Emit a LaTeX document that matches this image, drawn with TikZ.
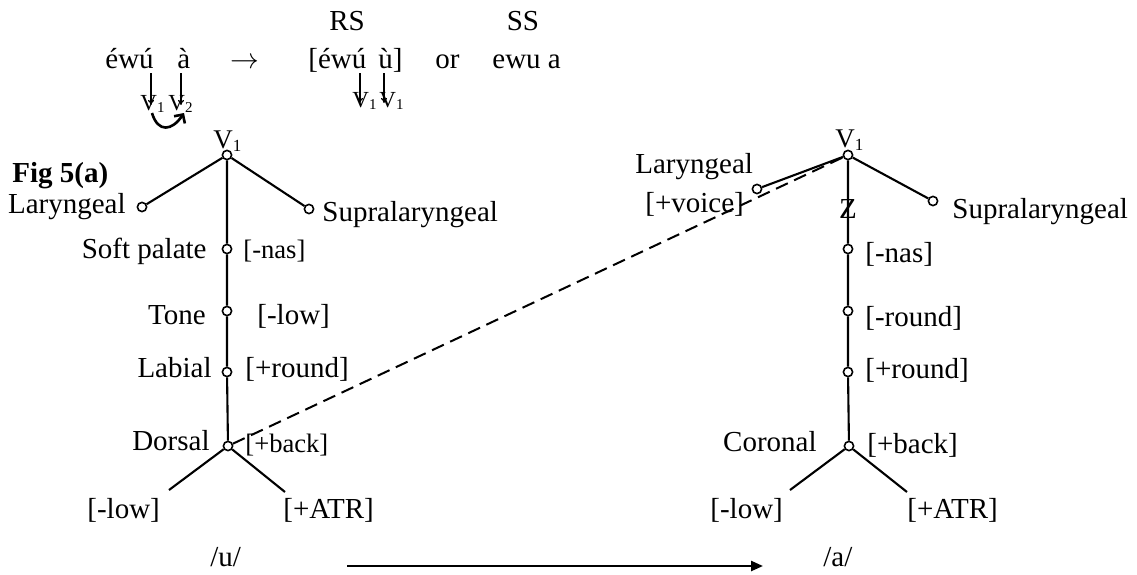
\documentclass[tikz,border=0pt]{standalone}
\usepackage{fontspec}
\setmainfont{Liberation Serif}
\usetikzlibrary{arrows.meta}
\newcommand\fsA{\fontsize{14.5}{17}\selectfont}
\newcommand\fsB{\fontsize{13.3}{16}\selectfont}
\newcommand\fsV{\fontsize{13.5}{15}\selectfont}
\newcommand\fsT{\fontsize{11.5}{13}\selectfont}
\newcommand\mysub[2]{\raisebox{-0.25ex}{\fontsize{#1}{#1}\selectfont #2}}
\begin{document}
\begin{tikzpicture}[x=0.5pt,y=-0.5pt,
  lbl/.style={inner sep=0,anchor=base west,font=\fsA},
  lble/.style={inner sep=0,anchor=base east,font=\fsA},
  lblc/.style={inner sep=0,anchor=base,font=\fsA},
  dot/.style={circle,draw,fill=white,inner sep=0,minimum size=4.6pt,line width=0.8pt},
  edge/.style={line width=1.05pt},
  dashedge/.style={line width=1pt,dash pattern=on 6.5pt off 3.5pt},
  downarr/.style={line width=0.65pt,-{To[length=2.5pt,width=3pt]}},
  curvarr/.style={line width=1.3pt,-{Straight Barb[length=3.2pt,width=6.5pt]}},
  longarr/.style={line width=1.2pt,-{Triangle[length=6pt,width=5pt]}}]
\useasboundingbox (0,0) rectangle (1137,574);

% ---- top row ----
\node[lblc] (RS) at (347,30) {RS};
\node[lblc] (SS) at (523,30) {SS};
\node[lbl] (ewu) at (105,68) {éwú};
\node[lbl] (agr) at (177,68) {à};
\node[lbl] (arrtop) at (230,68) {$\rightarrow$};
\node[lbl] (rsform) at (308,68) {[éwú\hspace{6pt}ù]};
\node[lbl] (or) at (435,68) {or};
\node[lbl] (ssform) at (492,68) {ewu a};

\node[inner sep=0,anchor=base west,font=\fsT] (tv1) at (140,110) {V\mysub{7.5}{1}};
\node[inner sep=0,anchor=base west,font=\fsT] (tv2) at (168,110) {V\mysub{7.5}{2}};
\node[inner sep=0,anchor=base west,font=\fsT] (tv3) at (352,107) {V\mysub{7.5}{1}};
\node[inner sep=0,anchor=base west,font=\fsT] (tv4) at (379,107) {V\mysub{7.5}{1}};

\coordinate (a1s) at (151,73); \coordinate (a1e) at (151,105);
\coordinate (a2s) at (181,73); \coordinate (a2e) at (181,105);
\coordinate (a3s) at (360,73); \coordinate (a3e) at (360,103);
\coordinate (a4s) at (384,73); \coordinate (a4e) at (384,103);
\draw[downarr] (a1s) -- (a1e);
\draw[downarr] (a2s) -- (a2e);
\draw[downarr] (a3s) -- (a3e);
\draw[downarr] (a4s) -- (a4e);
\coordinate (cs) at (152,113); \coordinate (ce) at (184,113);
\draw[curvarr] (cs) .. controls (158,133) and (172,131) .. (ce);

% ---- left tree ----
\node[inner sep=0,anchor=base west,font=\fsV] (lV) at (213,148) {V\mysub{8.5}{1}};
\node[inner sep=0,anchor=base west,font=\bfseries\fsA] (fig) at (12,182) {Fig 5(a)};

\node[dot] (L0) at (227,155) {};
\node[dot] (Llar) at (142,207) {};
\node[dot] (Lsup) at (309,209) {};
\node[dot] (Lsoft) at (227,249) {};
\node[dot] (Ltone) at (227,311) {};
\node[dot] (Llab) at (227,372) {};
\node[dot] (Ldor) at (228,446) {};
\coordinate (Lleft) at (169,490);
\coordinate (Lright) at (285,492);

\draw[edge] (L0) -- (Llar);
\draw[edge] (L0) -- (Lsup);
\draw[edge] (L0) -- (Lsoft) -- (Ltone) -- (Llab) -- (Ldor);
\draw[edge] (Ldor) -- (Lleft);
\draw[edge] (Ldor) -- (Lright);

\node[lble] (tLlar) at (126,213) {Laryngeal};
\node[lbl] (tLsup) at (322,221) {Supralaryngeal};
\node[lble] (tLsoft) at (207,258) {Soft palate};
\node[inner sep=0,anchor=base west,font=\fsB] (fLsoft) at (243,258) {[-nas]};
\node[lble] (tLtone) at (206,324) {Tone};
\node[lbl] (fLtone) at (257,324) {[-low]};
\node[lble] (tLlab) at (212,377) {Labial};
\node[lbl] (fLlab) at (245,377) {[+round]};
\node[lble] (tLdor) at (210,450) {Dorsal};
\node[inner sep=0,anchor=base west,font=\fsB] (fLdor) at (245,452) {[+back]};
\node[lbl] (fLlow) at (87,518) {[-low]};
\node[lbl] (fLatr) at (283,518) {[+ATR]};
\node[lbl] (uu) at (210,566) {/u/};

% ---- bottom arrow ----
\coordinate (bs) at (347,566);
\coordinate (be) at (763,566);
\draw[longarr] (bs) -- (be);
\node[lbl] (aa) at (823,566) {/a/};

% ---- right tree ----
\node[inner sep=0,anchor=base west,font=\fsV] (rV) at (835,147) {V\mysub{8.5}{1}};
\node[dot] (R0) at (848,155) {};
\node[dot] (Rlar) at (757,189) {};
\node[dot] (Rsup) at (933,201) {};
\node[dot] (Rnas) at (848,249) {};
\node[dot] (Rrnd) at (848,311) {};
\node[dot] (Rrnd2) at (848,372) {};
\node[dot] (Rcor) at (849,446) {};
\coordinate (Rleft) at (790,490);
\coordinate (Rright) at (907,492);

\draw[edge] (R0) -- (Rlar);
\draw[edge] (R0) -- (Rsup);
\draw[edge] (R0) -- (Rnas) -- (Rrnd) -- (Rrnd2) -- (Rcor);
\draw[edge] (Rcor) -- (Rleft);
\draw[edge] (Rcor) -- (Rright);
\draw[dashedge] (Ldor) -- (R0);

\node[lbl] (tRlar) at (635,173) {Laryngeal};
\node[lbl] (fRlar) at (645,212) {[+voice]};
\node[lblc] (Z) at (848,218) {Z};
\node[lbl] (tRsup) at (952,218) {Supralaryngeal};
\node[lbl] (fRnas) at (865,262) {[-nas]};
\node[lbl] (fRrnd) at (865,326) {[-round]};
\node[lbl] (fRrnd2) at (865,378) {[+round]};
\node[lble] (tRcor) at (817,451) {Coronal};
\node[lbl] (fRcor) at (867,453) {[+back]};
\node[lbl] (fRlow) at (710,518) {[-low]};
\node[lbl] (fRatr) at (907,518) {[+ATR]};
\end{tikzpicture}
\end{document}
